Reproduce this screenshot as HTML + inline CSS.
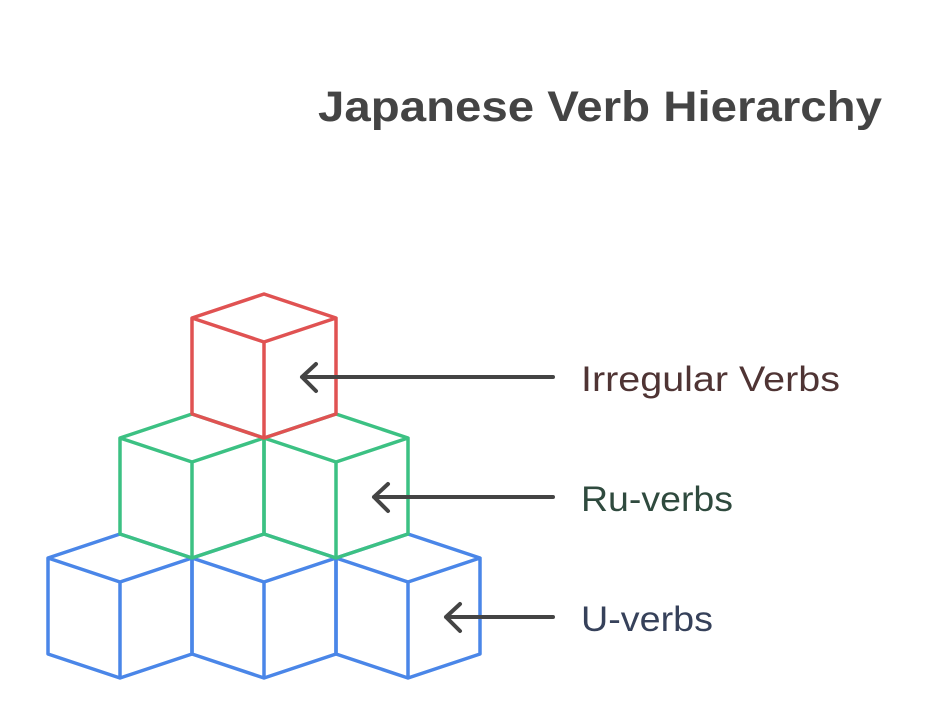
<!DOCTYPE html>
<html><head><meta charset="utf-8"><style>
html,body{margin:0;padding:0;background:#fff;}
svg{display:block;}
</style></head><body>
<svg width="936" height="702" viewBox="0 0 936 702" xmlns="http://www.w3.org/2000/svg">
<defs>
<g id="cube" fill="none" stroke-width="3.5" stroke-linejoin="round">
<path d="M0 0 L72 24 L0 48 L-72 24 Z M-72 24 L-72 120 L0 144 L72 120 L72 24 M0 48 L0 144"/>
</g>
</defs>
<g stroke="#4a86e8"><use href="#cube" x="120" y="534"/><use href="#cube" x="264" y="534"/><use href="#cube" x="408" y="534"/></g>
<g stroke="#3cc183"><use href="#cube" x="192" y="414"/><use href="#cube" x="336" y="414"/></g>
<g stroke="#e05252"><use href="#cube" x="264" y="294"/></g>
<g stroke="#444" stroke-width="4" fill="none" stroke-linecap="round" stroke-linejoin="round">
<path d="M302 377 L553 377 M316 364 L302 377 L316 391"/>
<path d="M374 497 L553 497 M388 484 L374 497 L388 511"/>
<path d="M446 617 L553 617 M460 604 L446 617 L460 631"/>
</g>
<g font-family="Liberation Sans, sans-serif" font-size="35">
<text x="581" y="391" fill="#4f3434" textLength="259" lengthAdjust="spacingAndGlyphs">Irregular Verbs</text>
<text x="581" y="511" fill="#2f4a3e" textLength="152" lengthAdjust="spacingAndGlyphs">Ru-verbs</text>
<text x="581" y="631" fill="#36415a" textLength="132" lengthAdjust="spacingAndGlyphs">U-verbs</text>
</g>
<text x="318" y="121" font-family="Liberation Sans, sans-serif" font-weight="bold" font-size="43" fill="#444" textLength="564" lengthAdjust="spacingAndGlyphs">Japanese Verb Hierarchy</text>
</svg>
</body></html>
